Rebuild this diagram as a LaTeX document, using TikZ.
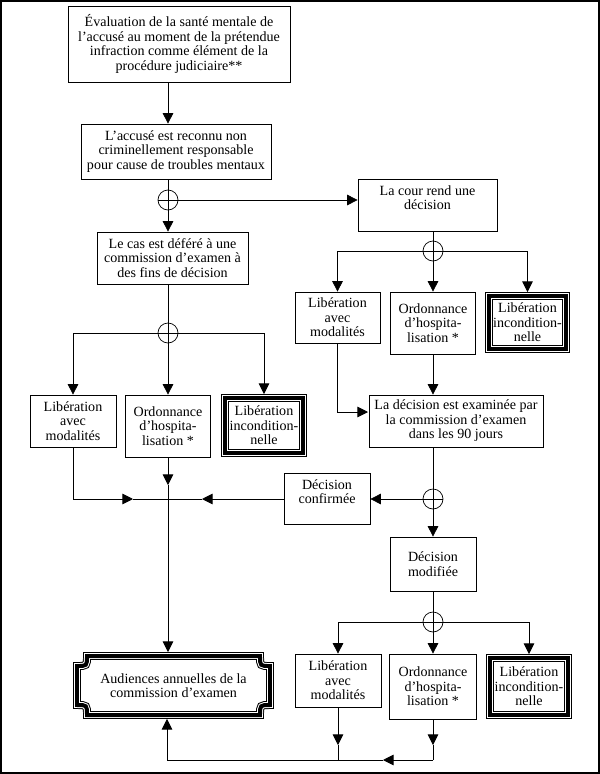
\documentclass[tikz,border=0pt]{standalone}
\usepackage{fontspec}
\setmainfont{Liberation Serif}
\usetikzlibrary{positioning,arrows.meta}

\def\px{0.03cm}

\tikzset{
  box/.style={draw, line width=0.6pt, align=center, inner sep=1pt,
    font=\fontsize{12}{12.4}\selectfont},
  triple/.style={box, preaction={draw, line width=6.8pt},
    preaction={draw, white, line width=5.1pt}, line width=3.4pt, outer sep=3.4pt},
  junc/.style={circle, draw, line width=0.6pt, minimum size=20*\px, inner sep=0pt,
    path picture={\draw[line width=0.6pt] (path picture bounding box.north) -- (path picture bounding box.south)
      (path picture bounding box.west) -- (path picture bounding box.east);}},
  link/.style={line width=0.6pt},
  arr/.style={link, -{Triangle[length=9pt,width=9pt]}},
}

\begin{document}
\begin{tikzpicture}[x=0.03cm, y=-0.03cm]
\useasboundingbox (0,0) rectangle (600,774);
\draw[line width=1.7pt] (1,1) rectangle (599,773);

\def\xa{168}
\def\xb{433}

% left column
\node[box, minimum width=222*\px, minimum height=76*\px] (eval) at (179,44)
  {Évaluation de la santé mentale de\\l’accusé au moment de la prétendue\\infraction comme élément de la\\procédure judiciaire**};
\node[box, minimum width=190*\px, minimum height=55*\px] (nonresp) at (176,151.5)
  {L’accusé est reconnu non\\criminellement responsable\\pour cause de troubles mentaux};
\node[junc] (j1) at (\xa,200) {};
\node[box, minimum width=151*\px, minimum height=52*\px] (defer) at (172.5,258)
  {Le cas est déféré à une\\commission d’examen à\\des fins de décision};
\node[junc] (j2) at (\xa,333) {};
\node[box, minimum width=86*\px, minimum height=52*\px] (liba1) at (73,421)
  {Libération\\avec\\modalités};
\node[box, minimum width=85*\px, minimum height=62*\px] (ord1) at (\xa,426)
  {Ordonnance\\d’hospita-\\lisation *};
\node[triple, minimum width=78*\px, minimum height=55*\px] (libi1) at (264,425.5)
  {Libération\\incondition-\\nelle};

% right column
\node[box, minimum width=139*\px, minimum height=52*\px] (cour) at (427.5,205)
  {La cour rend une\\décision\\~};
\node[junc] (j3) at (\xb,251) {};
\node[box, minimum width=85*\px, minimum height=51*\px] (liba2) at (337.5,317.5)
  {Libération\\avec\\modalités};
\node[box, minimum width=85*\px, minimum height=62*\px] (ord2) at (\xb,323)
  {Ordonnance\\d’hospita-\\lisation *};
\node[triple, minimum width=77*\px, minimum height=53*\px] (libi2) at (527.5,322.5)
  {Libération\\incondition-\\nelle};
\node[box, minimum width=174*\px, minimum height=52*\px] (exam) at (456,421)
  {La décision est examinée par\\la commission d’examen\\dans les 90 jours};
\node[junc] (j4) at (\xb,499) {};
\node[box, minimum width=86*\px, minimum height=51*\px] (conf) at (327,499)
  {Décision\\confirmée\\~};
\node[box, minimum width=86*\px, minimum height=54*\px] (modif) at (\xb,564)
  {Décision\\modifiée};
\node[junc] (j5) at (\xb,622) {};
\node[box, minimum width=86*\px, minimum height=53*\px] (liba3) at (338,680.5)
  {Libération\\avec\\modalités};
\node[box, minimum width=87*\px, minimum height=65*\px] (ord3) at (\xb,686.5)
  {Ordonnance\\d’hospita-\\lisation *};
\node[triple, minimum width=78*\px, minimum height=57*\px] (libi3) at (529,686.5)
  {Libération\\incondition-\\nelle};

% annual hearings plaque
\def\al{77}
\def\ar{270}
\def\at{656}
\def\ab{715}
\draw[preaction={draw, line width=6.8pt}, preaction={draw, white, line width=5.1pt}, line width=3.4pt]
  (\al+10,\at) -- (\ar-10,\at) .. controls (\ar-10,\at+10) .. (\ar,\at+10)
  -- (\ar,\ab-10) .. controls (\ar-10,\ab-10) .. (\ar-10,\ab)
  -- (\al+10,\ab) .. controls (\al+10,\ab-10) .. (\al,\ab-10)
  -- (\al,\at+10) .. controls (\al+10,\at+10) .. (\al+10,\at) -- cycle;
\node[align=center, font=\fontsize{12}{12.4}\selectfont, minimum width=193*\px,
  minimum height=59*\px, inner sep=0pt, outer sep=3.4pt] (aud) at (173.5,685.5)
  {Audiences annuelles de la\\commission d’examen};

% helper points
\coordinate (m1) at (\xa,485);
\coordinate (mA) at (133,499);
\coordinate (mB) at (202,499);
\coordinate (eIn) at (368,412);
\coordinate (b1) at (338,745);
\coordinate (b2) at (\xb,745);
\coordinate (b3) at (\xb,760);
\coordinate (b4) at (383,760);
\coordinate (b5) at (167,760);
\coordinate (bJ) at (338,760);

% connectors
\draw[arr] (eval.south -| j1) -- (nonresp.north -| j1);
\draw[link] (nonresp.south -| j1) -- (j1);
\draw[arr] (j1) -- (j1 -| cour.west);
\draw[arr] (j1) -- (j1 |- defer.north);
\draw[link] (defer.south -| j2) -- (j2);
\draw[arr] (j2) -| (liba1);
\draw[arr] (j2) -- (ord1);
\draw[arr] (j2) -| (libi1);

\draw[link] (j3 |- cour.south) -- (j3);
\draw[arr] (j3) -| (liba2);
\draw[arr] (j3) -- (ord2);
\draw[arr] (j3) -| (libi2);
\draw[arr] (ord2.south) -- (ord2.south |- exam.north);
\draw[arr] (liba2.south) |- (eIn);
\draw[link] (exam.south -| j4) -- (j4);
\draw[arr] (j4) -- (conf);
\draw[arr] (j4) -- (modif);
\draw[link] (modif) -- (j5);
\draw[arr] (j5) -| (liba3);
\draw[arr] (j5) -- (ord3);
\draw[arr] (j5) -| (libi3);

\draw[arr] (ord1) -- (m1);
\draw[arr] (m1) -- (m1 |- aud.north);
\draw[arr] (liba1.south) |- (mA);
\draw[link] (mA) -- (mB);
\draw[arr] (conf) -- (mB);

\draw[arr] (liba3) -- (b1);
\draw[link] (b1) -- (bJ);
\draw[arr] (ord3) -- (b2);
\draw[link] (b2) -- (b3);
\draw[arr] (b3) -- (b4);
\draw[link] (b4) -- (b5);
\draw[arr] (b5) -- (b5 |- aud.south);

\end{tikzpicture}
\end{document}
